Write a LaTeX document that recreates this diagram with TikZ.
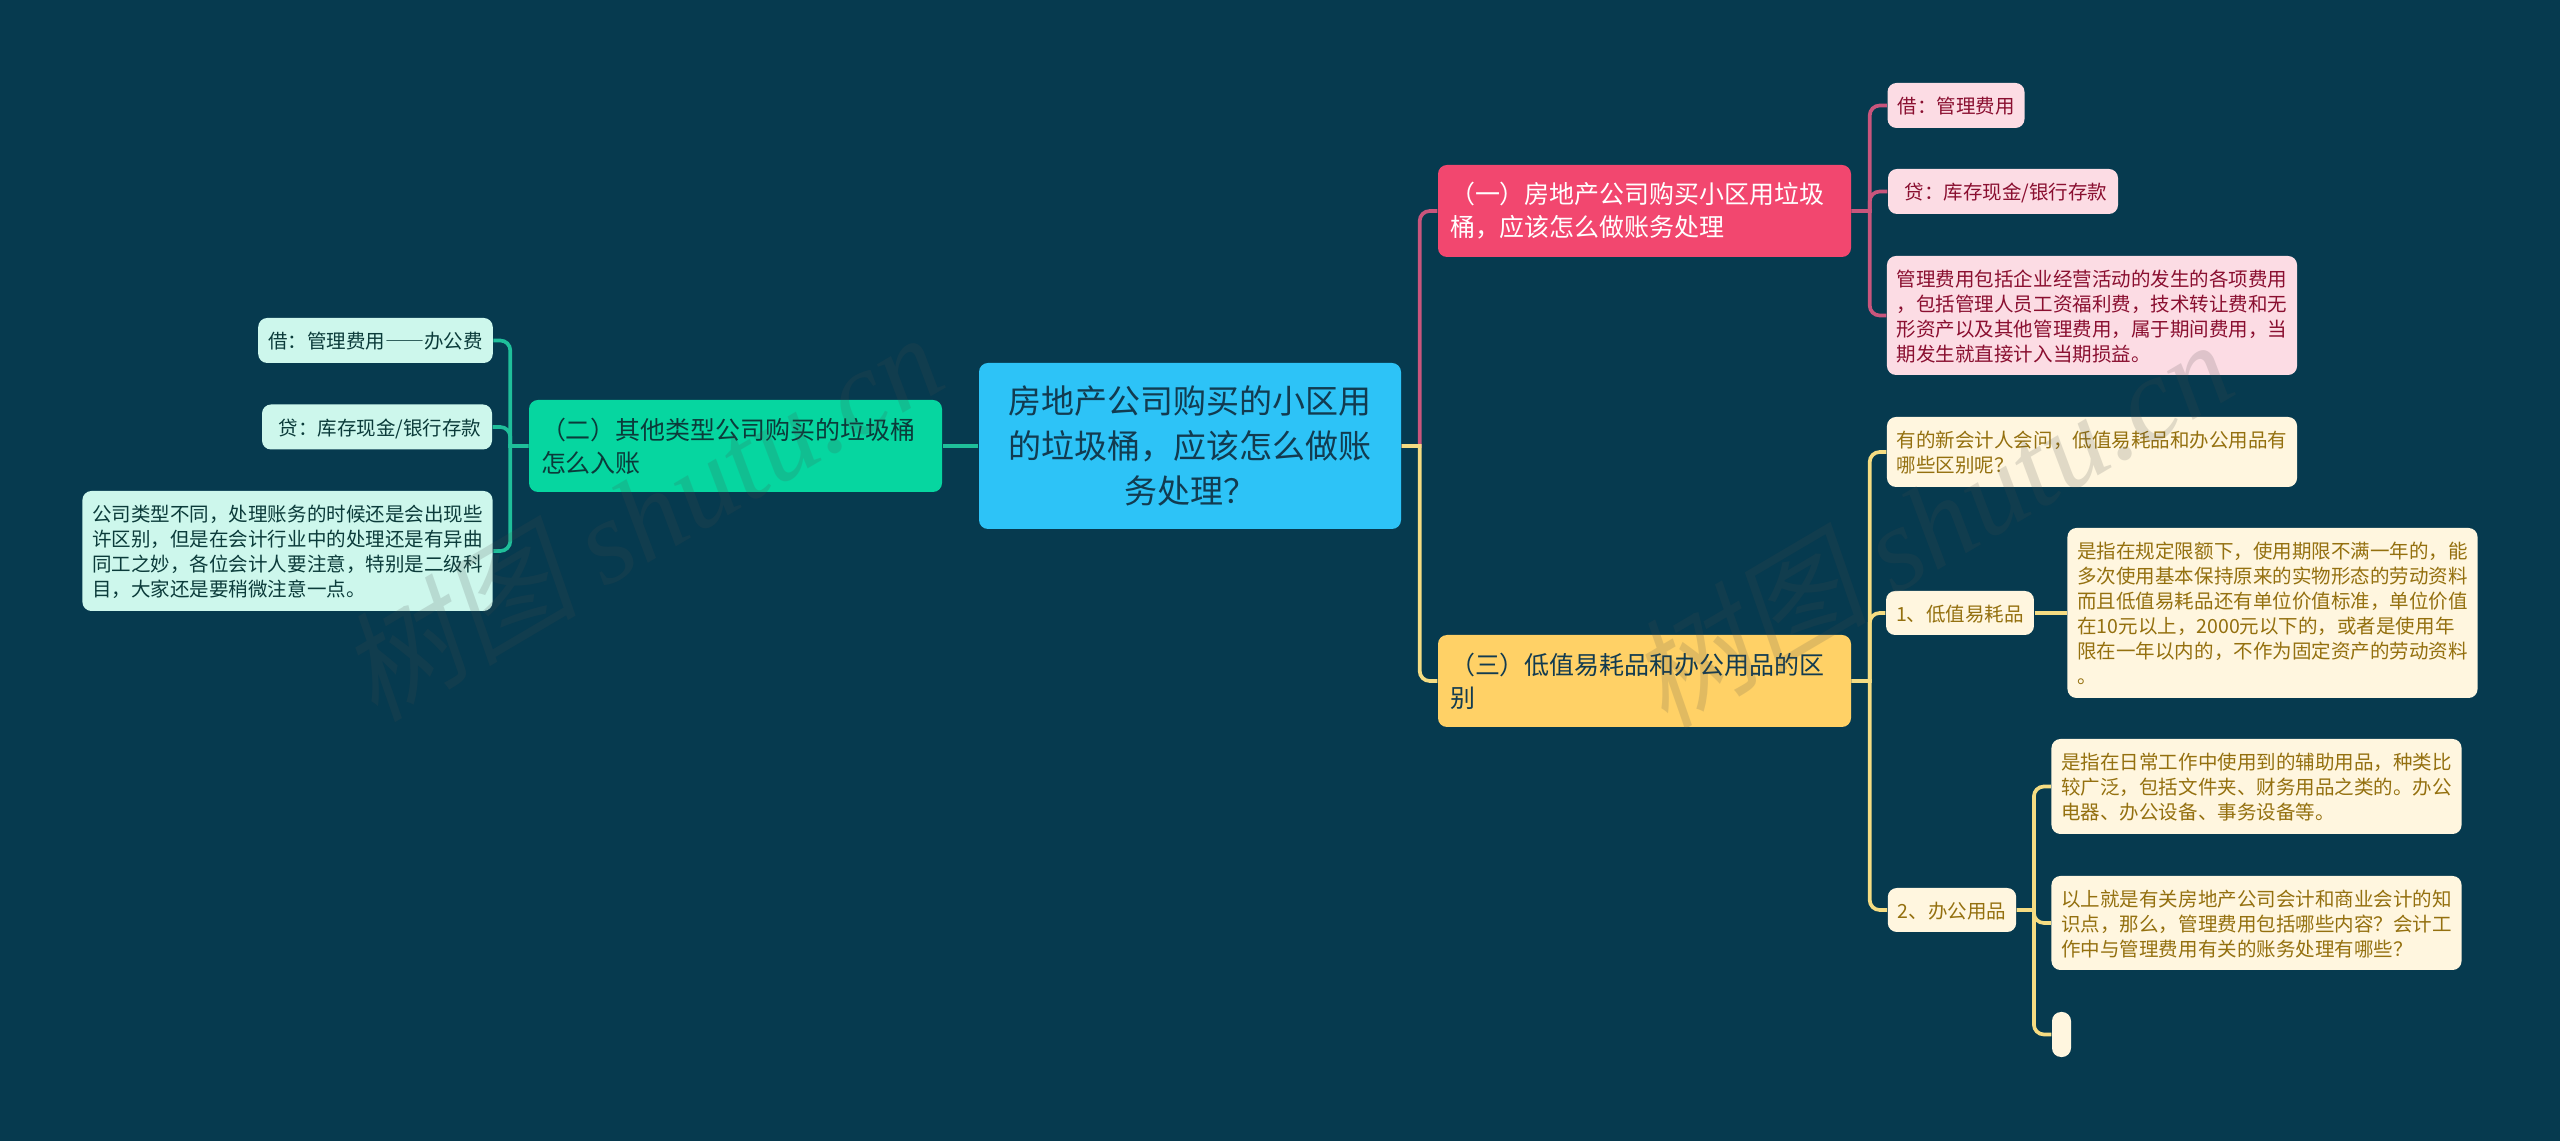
\documentclass[tikz,border=0pt]{standalone}
\usepackage{fontspec}
\setmainfont{Noto Sans CJK SC}
\newfontfamily\markfont{Liberation Serif}
\newfontfamily\markcjk[FakeSlant=0.2]{Noto Sans CJK SC}
\usetikzlibrary{positioning}

\definecolor{bgcol}{HTML}{063A4F}
\definecolor{rootcol}{HTML}{2DC3F7}
\definecolor{rootink}{HTML}{123B50}
\definecolor{pinkcol}{HTML}{F2476F}
\definecolor{pinkpale}{HTML}{FCDCE4}
\definecolor{pinkink}{HTML}{8A0F30}
\definecolor{pinkline}{HTML}{C9557C}
\definecolor{greencol}{HTML}{06D6A0}
\definecolor{greenpale}{HTML}{CDF7EC}
\definecolor{greenink}{HTML}{0B3B3A}
\definecolor{greenline}{HTML}{1FBF9A}
\definecolor{yellowcol}{HTML}{FFD166}
\definecolor{yellowpale}{HTML}{FFF6DF}
\definecolor{yellowink}{HTML}{94700F}
\definecolor{yellowline}{HTML}{F5DC82}

\tikzset{
  box/.style={rounded corners=0.09cm, align=left, inner xsep=0.1cm, inner ysep=0pt, anchor=center},
  rootbox/.style={box, fill=rootcol, text=rootink, align=center, minimum width=4.22cm, minimum height=1.66cm,
    font=\fontsize{9.39}{12.7}\selectfont},
  topicbox/.style={box, inner xsep=0.12cm, minimum width=4.13cm, minimum height=0.92cm, text width=3.89cm,
    font=\fontsize{7.11}{9.39}\selectfont},
  leafbox/.style={box, text depth=0pt, font=\fontsize{5.55}{7.11}\selectfont},
  pinkleaf/.style={leafbox, fill=pinkpale, text=pinkink},
  greenleaf/.style={leafbox, fill=greenpale, text=greenink},
  yellowleaf/.style={leafbox, fill=yellowpale, text=yellowink},
  link/.style={line width=1.05pt},
  watermark/.style={rotate=30.5, text=black!70, opacity=0.17, font=\fontsize{34}{34}\selectfont\itshape},
}

\begin{document}
\begin{tikzpicture}
  % Background
  \useasboundingbox (0,0) rectangle (25.6,11.4);
  \fill[bgcol] (-0.1,-0.1) rectangle (25.7,11.5);

  % Root
  \node[rootbox] (root) at (11.9,6.94) {房地产公司购买的小区用\\的垃圾桶，应该怎么做账\\务处理？};

  % Topics
  \node[topicbox, fill=pinkcol, text=white] (buy) at (16.445,9.29) {（一）房地产公司购买小区用垃圾\\桶，应该怎么做账务处理};
  \node[topicbox, fill=yellowcol, text=rootink] (diff) at (16.445,4.59) {（三）低值易耗品和办公用品的区\\别};
  \node[topicbox, fill=greencol, text=greenink] (other) at (7.355,6.94) {（二）其他类型公司购买的垃圾桶\\怎么入账};

  % Pink leaves
  \node[pinkleaf, minimum width=1.36cm, minimum height=0.45cm] (debit) at (19.56,10.345) {借：管理费用};
  \node[pinkleaf, minimum width=2.3cm, minimum height=0.45cm] (credit) at (20.03,9.485) {\hspace*{0.06cm}贷：库存现金/银行存款};
  \node[pinkleaf, minimum width=4.08cm, minimum height=1.19cm] (note) at (20.92,8.245) {管理费用包括企业经营活动的发生的各项费用\\，包括管理人员工资福利费，技术转让费和无\\形资产以及其他管理费用，属于期间费用，当\\期发生就直接计入当期损益。};

  % Green leaves
  \node[greenleaf, minimum width=2.33cm, minimum height=0.45cm] (gdebit) at (3.755,7.995) {借：管理费用{\addfontfeature{RawFeature=+fwid}——}办公费};
  \node[greenleaf, minimum width=2.3cm, minimum height=0.45cm] (gcredit) at (3.77,7.13) {\hspace*{0.06cm}贷：库存现金/银行存款};
  \node[greenleaf, minimum width=4.09cm, minimum height=1.2cm] (gnote) at (2.875,5.89) {公司类型不同，处理账务的时候还是会出现些\\许区别，但是在会计行业中的处理还是有异曲\\同工之妙，各位会计人要注意，特别是二级科\\目，大家还是要稍微注意一点。};

  % Yellow leaves
  \node[yellowleaf, minimum width=4.08cm, minimum height=0.7cm] (ask) at (20.92,6.88) {有的新会计人会问，低值易耗品和办公用品有\\哪些区别呢？};
  \node[yellowleaf, minimum width=1.44cm, minimum height=0.44cm] (low) at (19.6,5.27) {1、低值易耗品};
  \node[yellowleaf, minimum width=4.07cm, minimum height=1.7cm] (lownote) at (22.725,5.27) {是指在规定限额下，使用期限不满一年的，能\\多次使用基本保持原来的实物形态的劳动资料\\而且低值易耗品还有单位价值标准，单位价值\\在10元以上，2000元以下的，或者是使用年\\限在一年以内的，不作为固定资产的劳动资料\\。};
  \node[yellowleaf, minimum width=1.28cm, minimum height=0.44cm] (office) at (19.52,2.3) {2、办公用品};
  \node[yellowleaf, minimum width=4.09cm, minimum height=0.95cm] (officenote) at (22.565,3.535) {是指在日常工作中使用到的辅助用品，种类比\\较广泛，包括文件夹、财务用品之类的。办公\\电器、办公设备、事务设备等。};
  \node[yellowleaf, minimum width=4.09cm, minimum height=0.94cm] (summary) at (22.565,2.17) {以上就是有关房地产公司会计和商业会计的知\\识点，那么，管理费用包括哪些内容？会计工\\作中与管理费用有关的账务处理有哪些？};
  \node[yellowleaf, minimum width=0.19cm, minimum height=0.45cm, inner xsep=0pt] (blank) at (20.615,1.055) {};

  % Pink links
  \draw[link, pinkline] (root.east) -- ++(0.18,0) [rounded corners=0.1cm] |- (buy.west);
  \draw[link, pinkline] (buy.east) -- ++(0.18,0) [rounded corners=0.1cm] |- (debit.west);
  \draw[link, pinkline] (buy.east) -- ++(0.18,0) [rounded corners=0.1cm] |- (credit.west);
  \draw[link, pinkline] (buy.east) -- ++(0.18,0) [rounded corners=0.1cm] |- (note.west);

  % Green links
  \draw[link, greenline] (root.west) -- (other.east);
  \draw[link, greenline] (other.west) -- ++(-0.18,0) [rounded corners=0.1cm] |- (gdebit.east);
  \draw[link, greenline] (other.west) -- ++(-0.18,0) [rounded corners=0.1cm] |- (gcredit.east);
  \draw[link, greenline] (other.west) -- ++(-0.18,0) [rounded corners=0.1cm] |- (gnote.east);

  % Yellow links
  \draw[link, yellowline] (root.east) -- ++(0.18,0) [rounded corners=0.1cm] |- (diff.west);
  \draw[link, yellowline] (diff.east) -- ++(0.18,0) [rounded corners=0.1cm] |- (ask.west);
  \draw[link, yellowline] (diff.east) -- ++(0.18,0) [rounded corners=0.1cm] |- (low.west);
  \draw[link, yellowline] (diff.east) -- ++(0.18,0) [rounded corners=0.1cm] |- (office.west);
  \draw[link, yellowline] (low.east) -- (lownote.west);
  \draw[link, yellowline] (office.east) -- ++(0.17,0) [rounded corners=0.1cm] |- (officenote.west);
  \draw[link, yellowline] (office.east) -- ++(0.17,0) [rounded corners=0.1cm] |- (summary.west);
  \draw[link, yellowline] (office.east) -- ++(0.17,0) [rounded corners=0.1cm] |- (blank.west);

  % Watermarks
  \node[watermark] (markleft) at (6.4,6.25) {{\markcjk 树图} {\markfont shutu.cn}};
  \node[watermark] (markright) at (19.3,6.18) {{\markcjk 树图} {\markfont shutu.cn}};
\end{tikzpicture}
\end{document}
